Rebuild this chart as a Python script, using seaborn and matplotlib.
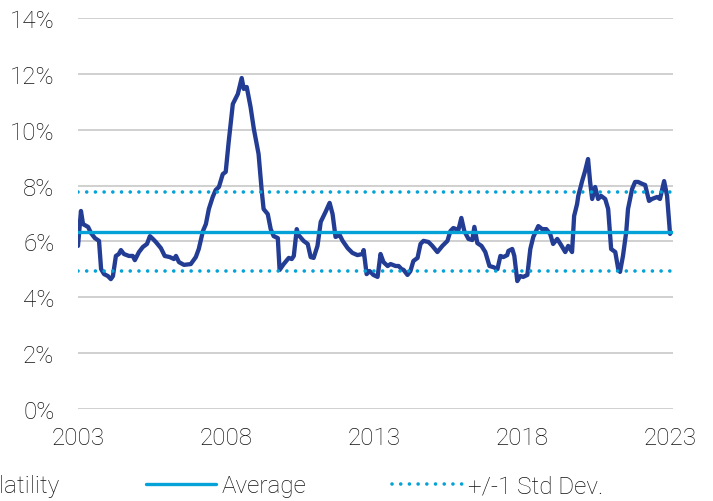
import pandas as pd
import seaborn as sns
import matplotlib.pyplot as plt
from matplotlib.ticker import FuncFormatter

# decimal year / volatility (%)
years = [2003.00, 2003.10, 2003.17, 2003.34, 2003.44, 2003.57, 2003.71, 2003.78, 2003.88, 2004.01,
         2004.11, 2004.18, 2004.28, 2004.38, 2004.45, 2004.55, 2004.72, 2004.85, 2004.92, 2005.06,
         2005.19, 2005.33, 2005.43, 2005.53, 2005.63, 2005.80, 2005.93, 2006.10, 2006.24, 2006.31,
         2006.41, 2006.58, 2006.81, 2006.98, 2007.08, 2007.22, 2007.32, 2007.42, 2007.55, 2007.65,
         2007.76, 2007.89, 2007.99, 2008.09, 2008.23, 2008.40, 2008.53, 2008.60, 2008.70, 2008.83,
         2008.94, 2009.10, 2009.21, 2009.27, 2009.41, 2009.51, 2009.61, 2009.75, 2009.81, 2009.95,
         2010.12, 2010.22, 2010.29, 2010.39, 2010.45, 2010.62, 2010.76, 2010.86, 2010.96, 2011.09,
         2011.20, 2011.36, 2011.50, 2011.60, 2011.70, 2011.84, 2011.94, 2012.11, 2012.27, 2012.44,
         2012.61, 2012.65, 2012.75, 2012.85, 2012.98, 2013.12, 2013.22, 2013.32, 2013.46, 2013.56,
         2013.73, 2013.83, 2013.93, 2014.00, 2014.13, 2014.23, 2014.33, 2014.47, 2014.57, 2014.67,
         2014.84, 2014.97, 2015.14, 2015.31, 2015.48, 2015.58, 2015.68, 2015.85, 2015.95, 2016.05,
         2016.19, 2016.32, 2016.39, 2016.49, 2016.63, 2016.76, 2016.90, 2017.03, 2017.17, 2017.27,
         2017.37, 2017.50, 2017.54, 2017.67, 2017.74, 2017.84, 2017.94, 2018.04, 2018.18, 2018.28,
         2018.38, 2018.55, 2018.68, 2018.82, 2018.95, 2019.05, 2019.19, 2019.32, 2019.46, 2019.56,
         2019.69, 2019.76, 2019.86, 2019.90, 2020.03, 2020.13, 2020.23, 2020.30, 2020.37, 2020.47,
         2020.57, 2020.67, 2020.81, 2020.91, 2021.01, 2021.15, 2021.25, 2021.31, 2021.41, 2021.52,
         2021.58, 2021.72, 2021.82, 2021.92, 2022.06, 2022.16, 2022.29, 2022.39, 2022.56, 2022.66,
         2022.80, 2022.90, 2023.00]
volatility = [5.84, 7.09, 6.62, 6.52, 6.30, 6.12, 6.02, 5.01, 4.83, 4.76,
              4.65, 4.76, 5.48, 5.55, 5.69, 5.55, 5.48, 5.48, 5.33, 5.62,
              5.80, 5.91, 6.19, 6.09, 5.98, 5.76, 5.48, 5.44, 5.37, 5.48,
              5.26, 5.16, 5.19, 5.44, 5.73, 6.37, 6.62, 7.16, 7.59, 7.84,
              7.95, 8.41, 8.49, 9.56, 10.92, 11.28, 11.85, 11.46, 11.53, 10.81,
              10.03, 9.13, 7.77, 7.16, 6.98, 6.44, 6.19, 6.12, 4.98, 5.19,
              5.41, 5.37, 5.48, 6.44, 6.23, 6.02, 5.91, 5.44, 5.41, 5.84,
              6.70, 7.05, 7.38, 6.98, 6.16, 6.23, 6.02, 5.76, 5.59, 5.51,
              5.55, 5.69, 4.83, 4.94, 4.80, 4.73, 5.55, 5.26, 5.12, 5.19,
              5.12, 5.12, 5.01, 4.98, 4.80, 4.94, 5.30, 5.41, 5.91, 6.02,
              5.98, 5.84, 5.62, 5.84, 6.02, 6.37, 6.48, 6.41, 6.84, 6.37,
              6.09, 6.05, 6.52, 5.94, 5.84, 5.62, 5.12, 5.08, 5.01, 5.48,
              5.44, 5.51, 5.66, 5.73, 5.48, 4.58, 4.76, 4.73, 4.80, 5.73,
              6.16, 6.55, 6.44, 6.44, 6.27, 5.91, 6.09, 5.87, 5.62, 5.84,
              5.62, 6.91, 7.34, 7.63, 8.16, 8.52, 8.95, 8.13, 7.52, 7.95,
              7.52, 7.63, 7.52, 7.16, 5.73, 5.62, 5.01, 4.91, 5.48, 6.34,
              7.16, 7.88, 8.13, 8.13, 8.06, 8.02, 7.45, 7.52, 7.59, 7.52,
              8.16, 7.63, 6.27]
average = 6.35
std_upper = 7.77
std_lower = 4.94
year_ticks = [2003, 2008, 2013, 2018, 2023]

df = pd.DataFrame({'year': years, 'vol': volatility})

sns.set_style('white')
plt.rcParams['font.family'] = ['Roboto', 'DejaVu Sans']
plt.rcParams['font.weight'] = 'light'

fig = plt.figure(figsize=(7.13, 5.02), dpi=100)
ax = fig.add_axes([78 / 713, 1 - 410 / 502, 595 / 713, 391 / 502])

navy = '#233c94'
cyan = '#04a2d6'
txt = '#111111'

sns.lineplot(data=df, x='year', y='vol', ax=ax, color=navy, linewidth=3.1,
             label='Volatility')
ax.axhline(average, color=cyan, linewidth=2.4, label='Average')
ax.axhline(std_upper, color=cyan, linewidth=2.6, linestyle=(0, (0.01, 2.4)),
           dash_capstyle='round', label='+/-1 Std Dev.')
ax.axhline(std_lower, color=cyan, linewidth=2.6, linestyle=(0, (0.01, 2.4)),
           dash_capstyle='round')

ax.set_xlim(2003, 2023.1)
ax.set_ylim(0, 14)
ax.set_yticks(range(0, 15, 2))
ax.set_xticks(year_ticks)
ax.yaxis.set_major_formatter(FuncFormatter(lambda v, p: f'{v:.0f}%'))
ax.grid(axis='y', color='#d0d0d0', linewidth=1.4)
ax.set_axisbelow(True)
for s in ax.spines.values():
    s.set_visible(False)
ax.tick_params(axis='y', length=0, pad=17, labelsize=17.5, labelcolor=txt)
ax.tick_params(axis='x', length=0, pad=12, labelsize=17.5, labelcolor=txt)
ax.set_xlabel('')
ax.set_ylabel('')

# legend runs off the left edge, as in the original
ax.get_legend().remove()
h, l = ax.get_legend_handles_labels()
fig.legend(h, l, loc='center left', bbox_to_anchor=(-104 / 713, 1 - 487 / 502),
           ncol=3, frameon=False, fontsize=17.5, handlelength=2.9,
           handletextpad=0.2, columnspacing=3.55, borderpad=0, borderaxespad=0,
           labelcolor=txt)

fig.savefig('out.png', dpi=100)
